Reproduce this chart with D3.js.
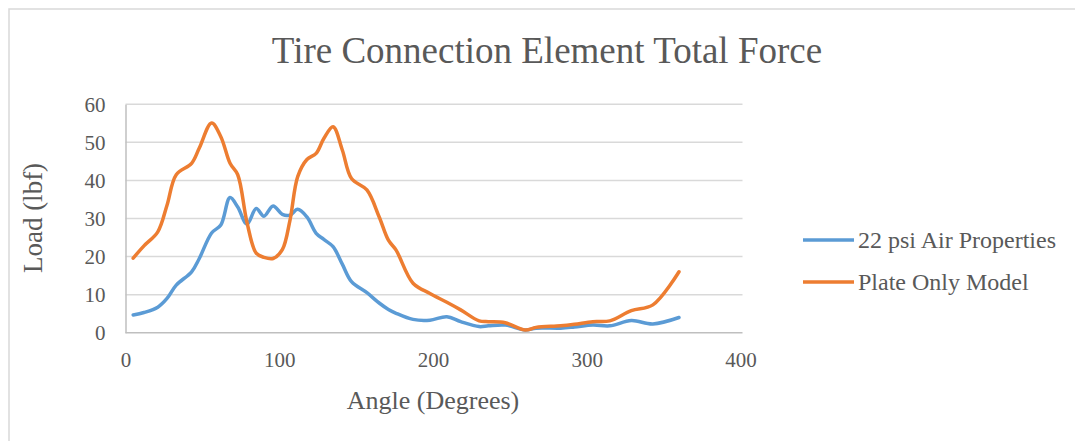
<!DOCTYPE html>
<html>
<head>
<meta charset="utf-8">
<script src="https://cdn.jsdelivr.net/npm/d3@7"></script>
<style>
  html, body { margin: 0; padding: 0; background: #fff; }
  svg { display: block; }
  text { font-family: "Liberation Serif", "Times New Roman", serif; fill: #595959; }
</style>
</head>
<body>
<svg id="chart" width="1075" height="441"></svg>
<script>
// Sample angles (degrees) shared by both series
const angles = [5, 12, 21, 27, 33, 43, 48, 56, 62, 68, 73, 79, 85, 90, 96, 102, 107, 112, 118, 124,
  129, 135, 141, 147, 157, 165, 171, 176, 187, 198, 209, 218, 230, 236, 247, 260, 267, 283, 292,
  304, 315, 329, 343, 360];

// Total force (lbf) — 22 psi air properties
const airLoad = [4.65, 5.3, 6.7, 9.0, 12.5, 16.0, 19.5, 26.2, 28.3, 35.5, 33.0, 28.5, 32.6, 30.6,
  33.3, 31.1, 30.9, 32.4, 30.4, 26.1, 24.5, 22.6, 18.0, 13.4, 10.5, 7.8, 6.1, 5.1, 3.5, 3.3, 4.2,
  2.9, 1.6, 1.8, 2.0, 0.7, 1.2, 1.2, 1.5, 2.0, 1.8, 3.2, 2.3, 4.0];

// Total force (lbf) — plate only model
const plateLoad = [19.6, 22.8, 26.5, 33.5, 41.5, 44.5, 48.5, 55.1, 51.5, 44.5, 41.5, 29.0, 20.9,
  19.8, 19.5, 21.8, 29.6, 41.0, 45.5, 47.1, 51.0, 54.1, 48.0, 40.5, 37.5, 30.4, 24.3, 21.7, 13.0,
  10.3, 8.0, 6.0, 3.1, 2.9, 2.6, 0.7, 1.4, 1.8, 2.2, 2.9, 3.1, 5.8, 7.3, 16.0];

const seriesNames = ["22 psi Air Properties", "Plate Only Model"];
const seriesColors = ["#5B9BD5", "#ED7D31"];
const xTicks = [0, 100, 200, 300, 400];
const yTicks = [0, 10, 20, 30, 40, 50, 60];

const chartTitle = "Tire Connection Element Total Force";
const xTitle = "Angle (Degrees)";
const yTitle = "Load (lbf)";

const svg = d3.select("#chart");

// Chart frame
svg.append("rect")
  .attr("x", 9).attr("y", 9)
  .attr("width", 1080).attr("height", 450)
  .attr("fill", "#fff")
  .attr("stroke", "#d9d9d9").attr("stroke-width", 1.5);

const plot = { left: 125.5, right: 740.5, top: 104.3, bottom: 332.7 };

const x = d3.scaleLinear().domain([0, 400]).range([plot.left, plot.right]);
const y = d3.scaleLinear().domain([0, 60]).range([plot.bottom, plot.top]);

// Horizontal gridlines
svg.append("g")
  .selectAll("line")
  .data(yTicks.filter(d => d !== 0))
  .join("line")
  .attr("x1", plot.left).attr("x2", plot.right + 2)
  .attr("y1", d => y(d)).attr("y2", d => y(d))
  .attr("stroke", "#d9d9d9").attr("stroke-width", 1.5);

const tickFont = "21px";

// Y axis
const yAxis = svg.append("g")
  .attr("transform", `translate(${plot.left},0)`)
  .call(d3.axisLeft(y).tickValues(yTicks).tickSize(0).tickPadding(20));
yAxis.select(".domain").attr("stroke", "#bfbfbf").attr("stroke-width", 1.5);
yAxis.selectAll("text")
  .style("font-family", "'Liberation Serif', 'Times New Roman', serif")
  .style("font-size", tickFont).attr("fill", "#595959");

// X axis
const xAxis = svg.append("g")
  .attr("transform", `translate(0,${plot.bottom})`)
  .call(d3.axisBottom(x).tickValues(xTicks).tickSize(0).tickPadding(19));
xAxis.select(".domain").attr("stroke", "#bfbfbf").attr("stroke-width", 1.5)
  .attr("d", `M${plot.left},0H${plot.right + 2}`);
xAxis.selectAll("text")
  .style("font-family", "'Liberation Serif', 'Times New Roman', serif")
  .style("font-size", tickFont).attr("fill", "#595959");

// Series lines
const series = [airLoad, plateLoad];
const line = d3.line()
  .x((d, i) => x(angles[i]))
  .y(d => y(d))
  .curve(d3.curveCatmullRom.alpha(0.5));

svg.append("g")
  .selectAll("path")
  .data(series)
  .join("path")
  .attr("d", d => line(d))
  .attr("fill", "none")
  .attr("stroke", (d, i) => seriesColors[i])
  .attr("stroke-width", 3.5)
  .attr("stroke-linejoin", "round")
  .attr("stroke-linecap", "round");

// Title
svg.append("text")
  .attr("x", 547).attr("y", 63)
  .attr("text-anchor", "middle")
  .style("font-size", "37px")
  .text(chartTitle);

// Axis titles
svg.append("text")
  .attr("x", 433).attr("y", 409)
  .attr("text-anchor", "middle")
  .style("font-size", "26px")
  .text(xTitle);

svg.append("text")
  .attr("transform", "translate(33,218) rotate(-90)")
  .attr("text-anchor", "middle")
  .attr("dy", "0.35em")
  .style("font-size", "27px")
  .text(yTitle);

// Legend
const legend = svg.append("g")
  .selectAll("g")
  .data(seriesNames)
  .join("g")
  .attr("transform", (d, i) => `translate(803,${240 + i * 42})`);
legend.append("line")
  .attr("x1", 0).attr("x2", 51)
  .attr("y1", 0).attr("y2", 0)
  .attr("stroke", (d, i) => seriesColors[i])
  .attr("stroke-width", 3.5);
legend.append("text")
  .attr("x", 55).attr("y", 8)
  .style("font-size", "24px")
  .text(d => d);
</script>
</body>
</html>
